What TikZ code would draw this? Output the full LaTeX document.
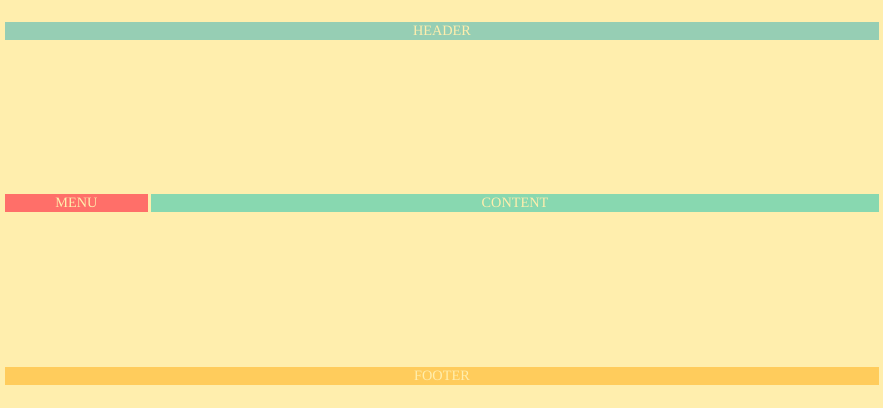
\documentclass[tikz,border=0pt]{standalone}
\usepackage{fontspec}
\setmainfont{Liberation Serif}
\definecolor{cream}{HTML}{FFEEAD}
\definecolor{mint}{HTML}{96CEB4}
\definecolor{sea}{HTML}{88D8B0}
\definecolor{coral}{HTML}{FF6F69}
\definecolor{sun}{HTML}{FFCC5C}
\tikzset{bar/.style={rectangle,inner sep=0pt,minimum height=18,text=cream,font=\fontsize{14.3}{14.3}\selectfont}}
\begin{document}
\begin{tikzpicture}[x=1pt,y=-1pt,line join=round,line cap=round]
\fill[cream] (0,0) rectangle (883,408);
\useasboundingbox (0,0) rectangle (883,408);
\node[bar,fill=mint,minimum width=874] (header) at (442,31) {HEADER};
\node[bar,fill=coral,minimum width=143] (menu) at (76.5,203) {MENU};
\node[bar,fill=sea,minimum width=728] (content) at (515,203) {CONTENT};
\node[bar,fill=sun,minimum width=874] (footer) at (442,376) {FOOTER};
\end{tikzpicture}
\end{document}
